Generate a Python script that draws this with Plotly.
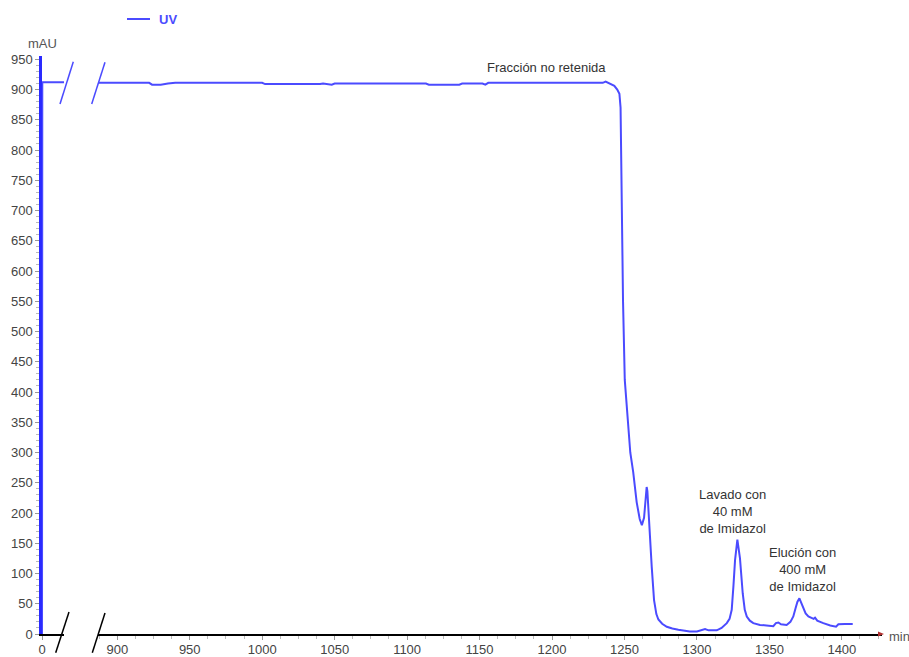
import plotly.graph_objects as go

# ---- data ----
left_time = [0, 0.2, 17]
left_uv = [0, 912, 912]

time_min = [886, 922, 924, 930, 935, 940, 1000, 1002, 1040, 1042, 1048, 1050, 1056, 1113, 1115, 1136, 1138,
            1152, 1154, 1156, 1200, 1235, 1237, 1239, 1241, 1243, 1245, 1246.5, 1247.3, 1248, 1249,
            1250.2, 1252, 1254, 1256, 1258.4, 1260.5, 1262, 1263.5, 1264.5, 1265.3, 1265.8, 1266.5,
            1267.6, 1268.8, 1270.4, 1272, 1273.4, 1276, 1279.2, 1283, 1287.2, 1295, 1300, 1303,
            1305.6, 1308, 1313.7, 1317, 1320.6, 1322.5, 1324, 1325.2, 1326.3, 1327.9, 1329.7, 1331.6,
            1333, 1334.4, 1336.5, 1338.9, 1343.5, 1348, 1352.7, 1354.5, 1356.2, 1358, 1361.9, 1364.5,
            1366.5, 1368, 1369.3, 1370.7, 1372, 1373.4, 1375, 1376.9, 1379, 1380.5, 1381.5, 1383,
            1387.2, 1392, 1396, 1397.6, 1402, 1407.5]
uv_mau = [911, 911, 908, 908, 910, 911, 911, 909, 909, 910, 908, 910, 910, 910, 908, 908, 910,
          910, 908, 911, 911, 911, 913, 911, 909, 906, 900, 893, 870, 700, 550,
          420, 360, 300, 268, 218, 190, 180, 192, 225, 243, 236, 205,
          172, 111, 56, 33, 24, 17, 12, 9, 7, 4, 4, 6,
          8, 6, 6, 10, 18, 25, 40, 80, 122, 156, 125, 67,
          40, 29, 22, 18, 15, 14, 13, 18, 19, 16, 15, 20,
          29, 42, 53, 59, 52, 42, 34, 29, 26, 25, 27, 22,
          18, 14, 12, 16, 16.5, 16.5]

x_major_ticks = [900, 950, 1000, 1050, 1100, 1150, 1200, 1250, 1300, 1350, 1400]

annotations_text = [
    ("Fracción no retenida", 1196, 937),
    ("Lavado con<br>40 mM<br>de Imidazol", 1324.6, 203),
    ("Elución con<br>400 mM<br>de Imidazol", 1372.9, 107),
]

# ---- layout helpers (page pixel -> paper, decorations only) ----
PLOT_LEFT, PLOT_RIGHT, PLOT_TOP, PLOT_BOTTOM = 42, 882, 56, 634  # page pixels
W, H = 909, 657
ML, MT = PLOT_LEFT, PLOT_TOP
PW, PH = PLOT_RIGHT - PLOT_LEFT, PLOT_BOTTOM - PLOT_TOP
MR, MB = W - ML - PW, H - MT - PH


def px(x):
    return (x - PLOT_LEFT) / PW


def py(y):
    return (PLOT_BOTTOM - y) / PH


LINE = "#4b4bff"
FONT = "Liberation Sans, Arial, sans-serif"

fig = go.Figure()
fig.add_trace(go.Scatter(x=left_time, y=left_uv, mode="lines", line=dict(color=LINE, width=2),
                         xaxis="x", yaxis="y", showlegend=False))
fig.add_trace(go.Scatter(x=time_min, y=uv_mau, mode="lines", line=dict(color=LINE, width=2),
                         xaxis="x2", yaxis="y", showlegend=False))

tickfont = dict(family=FONT, size=13, color="#444")

fig.update_layout(
    width=W, height=H,
    margin=dict(l=ML, r=MR, t=MT, b=MB),
    paper_bgcolor="white", plot_bgcolor="white",
    font=dict(family=FONT, color="#333"),
    showlegend=False,
    xaxis=dict(domain=[0, px(64)], range=[0, (64 - 42) / 1.449], tickvals=[0], ticktext=["0"],
               showline=True, linecolor="black", linewidth=2, ticks="outside", ticklen=4,
               tickcolor="#999", showgrid=False, zeroline=False, tickfont=tickfont, anchor="y",
               automargin=False, ticklabelstandoff=-2),
    xaxis2=dict(domain=[px(98), 1], range=[886.7, 1427.7], tickvals=x_major_ticks,
                showline=True, linecolor="black", linewidth=2, ticks="outside", ticklen=4,
                tickcolor="#999", showgrid=False, zeroline=False, tickfont=tickfont, anchor="y",
                automargin=False, ticklabelstandoff=-2,
                minor=dict(tick0=900, dtick=12.5, ticks="outside", ticklen=3, tickcolor="#bbb")),
    yaxis=dict(range=[0, 955.4], dtick=50, tick0=0, showline=True, linecolor="#2a2aff", linewidth=2.5,
               ticks="outside", ticklen=4, tickcolor="#999", showgrid=False, zeroline=False,
               tickfont=tickfont, anchor="x", automargin=False,
               minor=dict(dtick=10, ticks="outside", ticklen=3, tickcolor="#bbb")),
)

shapes = []
# axis break marks
for (x0, y0, x1, y1, c) in [(55.7, 652.7, 69, 612, "black"), (92.3, 652.7, 105, 613, "black"),
                            (60, 104, 73.3, 61.7, LINE), (91.7, 104, 105, 62.3, LINE)]:
    shapes.append(dict(type="line", xref="paper", yref="paper", x0=px(x0), y0=py(y0), x1=px(x1), y1=py(y1),
                       line=dict(color=c, width=1.5)))
# axis arrow head
shapes.append(dict(type="path", xref="paper", yref="paper",
                   path=f"M {px(878)} {py(631.5)} L {px(884)} {py(634)} L {px(878)} {py(636.5)} Z",
                   fillcolor="#b03030", line=dict(width=0)))
# legend line
shapes.append(dict(type="line", xref="paper", yref="paper", x0=px(127), x1=px(150), y0=py(19), y1=py(19),
                   line=dict(color=LINE, width=2)))
fig.update_layout(shapes=shapes)

ann = []
for text, x, y in annotations_text:
    ann.append(dict(text=text, x=x, y=y, xref="x2", yref="y", showarrow=False,
                    font=dict(family=FONT, size=13, color="#333"), align="center"))
ann.append(dict(text="<b>UV</b>", x=px(157), y=py(20), xref="paper", yref="paper", xanchor="left",
                yanchor="middle", showarrow=False, font=dict(family=FONT, size=13, color=LINE)))
ann.append(dict(text="mAU", x=px(42.5), y=py(44), xref="paper", yref="paper", xanchor="center",
                yanchor="middle", showarrow=False, font=dict(family=FONT, size=13, color="#555")))
ann.append(dict(text="min", x=px(887), y=py(636), xref="paper", yref="paper", xanchor="left",
                yanchor="middle", showarrow=False, font=dict(family=FONT, size=13, color="#555")))
fig.update_layout(annotations=ann)

fig.write_html("out.html", config={"displayModeBar": False},
               post_script="document.body.style.margin='0';document.body.style.overflow='hidden';")
